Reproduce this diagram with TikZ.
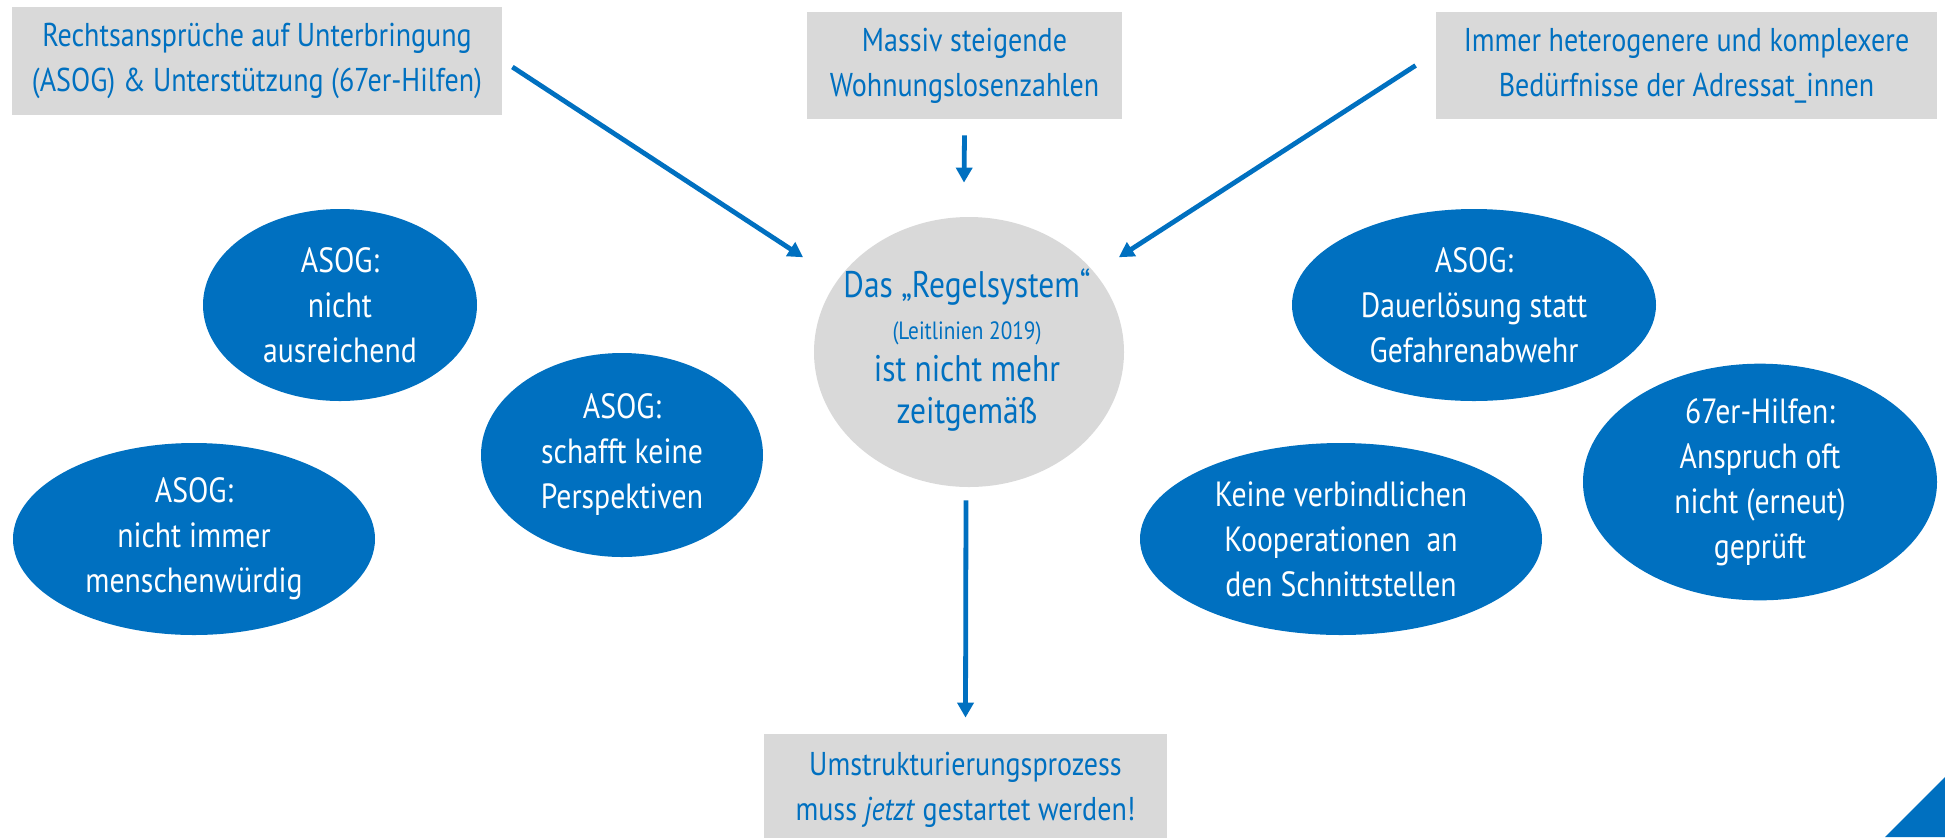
\documentclass[tikz,border=0pt]{standalone}
\usepackage{fontspec}
\setmainfont{PT Sans}[FakeStretch=0.85]
\usetikzlibrary{shapes.geometric,arrows.meta,calc}
\definecolor{myblue}{HTML}{0070C0}
\definecolor{mygray}{HTML}{D9D9D9}
\tikzset{
  blueell/.style={ellipse, fill=myblue, text=white, inner sep=0pt, align=center,
    font=\fontsize{17.5}{22.5}\selectfont},
  graybox/.style={rectangle, fill=mygray, text=myblue, inner sep=0pt, align=center,
    font=\fontsize{16.5}{22.5}\selectfont},
  centerell/.style={ellipse, fill=mygray, inner sep=0pt},
  centertext/.style={text=myblue, inner sep=0pt, align=center,
    font=\fontsize{18.5}{21}\selectfont},
  arr/.style={draw=myblue, line width=2.4pt, -{Triangle[length=7.5pt,width=8pt]}}
}
\begin{document}
\begin{tikzpicture}[x=0.5pt, y=-0.5pt]
\useasboundingbox (0,0) rectangle (1945,837);
% gray boxes
\node[graybox, minimum width=245pt, minimum height=54pt] (tl) at (257,61)
  {Rechtsansprüche auf Unterbringung\\(ASOG) \& Unterstützung (67er-Hilfen)};
\node[graybox, minimum width=157.5pt, minimum height=53.5pt] (tm) at (964.5,65.5)
  {Massiv steigende\\Wohnungslosenzahlen};
\node[graybox, minimum width=250.5pt, minimum height=53.5pt] (tr) at (1686.5,65.5)
  {Immer heterogenere und komplexere\\Bedürfnisse der Adressat\_innen};
\node[graybox, minimum width=201.5pt, minimum height=55.5pt] (bot) at (965.5,789.5)
  {Umstrukturierungsprozess\\muss \textit{jetzt} gestartet werden!};
% central ellipse
\node[centerell, minimum width=155pt, minimum height=135pt] (c) at (969,352) {};
\node[centertext] (ct) at ($(c.center)+(-2,-2)$)
  {Das „Regelsystem“\\{\fontsize{12.5}{15}\selectfont (Leitlinien 2019)}\\ist nicht mehr\\zeitgemäß};
% blue ellipses
\node[blueell, minimum width=137pt, minimum height=96pt] (e1) at (340,305)
  {ASOG:\\nicht\\ausreichend};
\node[blueell, minimum width=141pt, minimum height=102pt] (e2) at (622,455)
  {ASOG:\\schafft keine\\Perspektiven};
\node[blueell, minimum width=181pt, minimum height=96pt] (e3) at (194,539)
  {ASOG:\\nicht immer\\menschenwürdig};
\node[blueell, minimum width=182pt, minimum height=96pt] (e4) at (1474,305)
  {ASOG:\\Dauerlösung statt\\Gefahrenabwehr};
\node[blueell, minimum width=201pt, minimum height=96pt] (e5) at (1341,539)
  {Keine verbindlichen\\Kooperationen~~an\\den Schnittstellen};
\node[blueell, minimum width=177pt, minimum height=96pt] (e6) at (1760,482)
  {67er-Hilfen:\\Anspruch oft\\nicht (erneut)\\geprüft};
% arrows
\draw[arr] ($(tl.east)+(10,6)$) -- ($(c.north west)+(-56,1)$);
\draw[arr] ($(tm.south)+(0,16)$) -- ($(c.north)+(-5,-34)$);
\draw[arr] ($(tr.west)+(-20,0)$) -- ($(c.north east)+(40,1)$);
\draw[arr] ($(c.south)+(-3,13)$) -- ($(bot.north)+(0,-16)$);
% corner triangle
\fill[myblue] (1885,837) -- (1945,777) -- (1945,837) -- cycle;
\end{tikzpicture}
\end{document}
